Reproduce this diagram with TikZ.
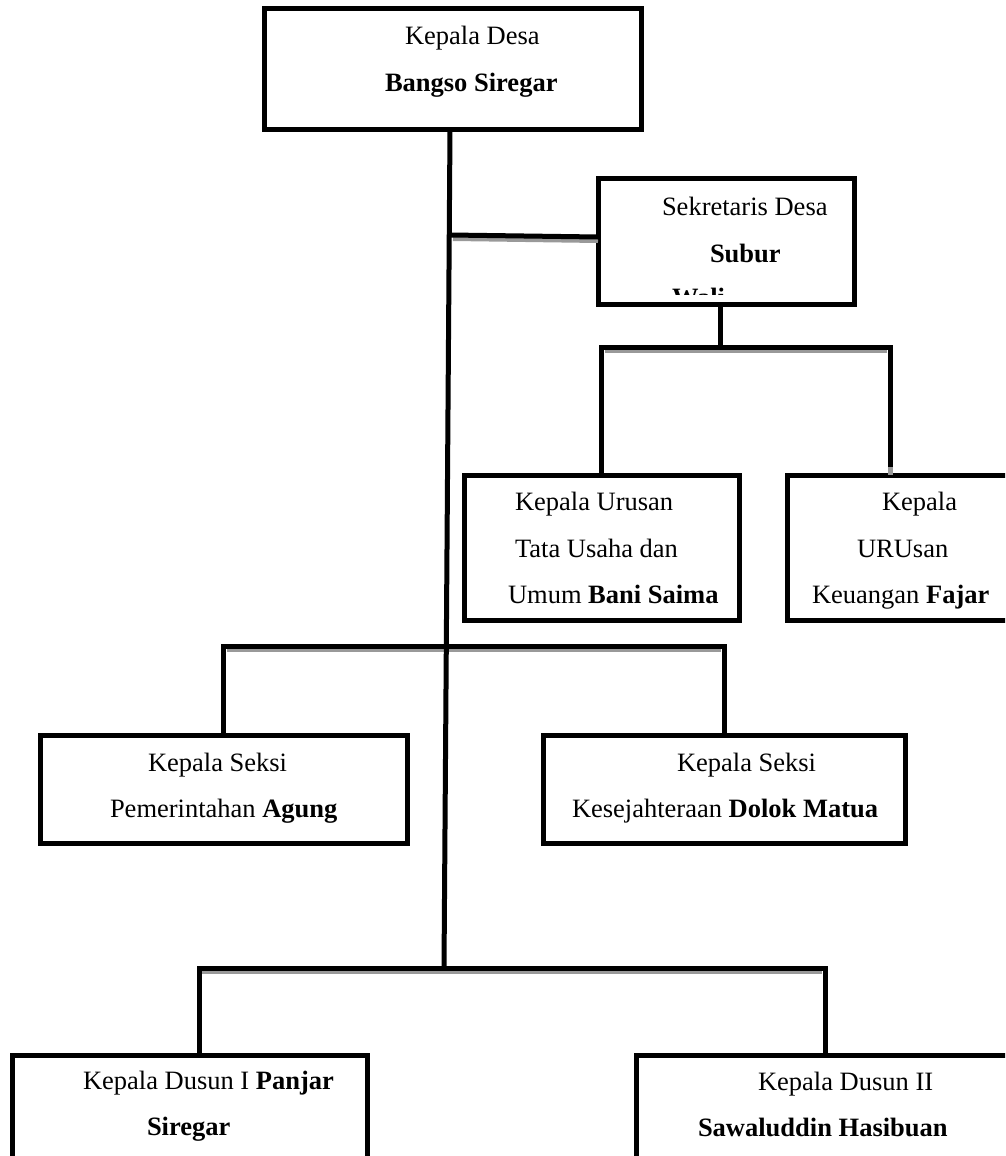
\documentclass[tikz,border=0pt]{standalone}
\usepackage{fontspec}
\setmainfont{Liberation Serif}
\begin{document}
\begin{tikzpicture}[x=1pt,y=-1pt,
  orgbox/.style 2 args={draw=black, line width=5pt, rectangle, outer sep=0pt, inner sep=0pt,
    anchor=north west, minimum width=#1, minimum height=#2},
  txt/.style={anchor=base west, inner sep=0pt, outer sep=0pt, font=\fontsize{26.5}{32}\selectfont},
  conn/.style={draw=black, line width=5pt, line cap=rect, line join=miter},
  shade/.style={draw=black!40, line width=4pt}]
\useasboundingbox (0,0) rectangle (1005,1156);
\clip (0,0) rectangle (1005,1156);

% ---- texts ----
\node[txt] (kd1) at (405,45) {Kepala Desa};
\node[txt] (kd2) at (385,91) {\textbf{Bangso Siregar}};
\node[txt] (sk1) at (662,215) {Sekretaris Desa};
\node[txt] (sk2) at (710,262) {\textbf{Subur}};
\begin{scope}
  \clip (600,180) rectangle (852,294);
  \node[txt] (sk3) at (672,306) {\textbf{Wali}};
\end{scope}
\node[txt] (tu1) at (515,510) {Kepala Urusan};
\node[txt] (tu2) at (515,557) {Tata Usaha dan};
\node[txt] (tu3) at (508,603) {Umum \textbf{Bani Saima}};
\node[txt] (ku1) at (882,510) {Kepala};
\node[txt] (ku2) at (857,557) {URUsan};
\node[txt] (ku3) at (812,603) {Keuangan \textbf{Fajar}};
\node[txt] (pe1) at (148,771) {Kepala Seksi};
\node[txt] (pe2) at (110,817) {Pemerintahan \textbf{Agung}};
\node[txt] (ke1) at (677,771) {Kepala Seksi};
\node[txt] (ke2) at (572,817) {Kesejahteraan \textbf{Dolok Matua}};
\node[txt] (d11) at (83,1089) {Kepala Dusun I \textbf{Panjar}};
\node[txt] (d12) at (147,1135) {\textbf{Siregar}};
\node[txt] (d21) at (758,1090) {Kepala Dusun II};
\node[txt] (d22) at (698,1136) {\textbf{Sawaluddin Hasibuan}};

% ---- boxes ----
\node[orgbox={377pt}{120pt}] (kades) at (264,9) {};
\node[orgbox={256pt}{126pt}] (sek) at (598,178) {};
\node[orgbox={275pt}{145pt}] (tata) at (464,475) {};
\node[orgbox={240pt}{145pt}] (keu) at (787,475) {};
\node[orgbox={367pt}{108pt}] (pem) at (40,735) {};
\node[orgbox={362pt}{108pt}] (kes) at (543,735) {};
\node[orgbox={355pt}{140pt}] (dus1) at (12,1055) {};
\node[orgbox={400pt}{140pt}] (dus2) at (636,1055) {};

% ---- junction coordinates ----
\coordinate (j1) at (450,235);
\coordinate (j3) at (444,968);
\coordinate (b1) at (720,347);
\coordinate (rb) at (890,347);
\coordinate (rbend) at (890,467);
\coordinate (ub) at (446,646);
\coordinate (l1) at (199,968);
\coordinate (l2) at (825,968);

% ---- shadows under horizontal bars ----
\draw[shade] ([xshift=3pt,yshift=-4pt]j1) -- ([yshift=0pt]sek.west);
\draw[shade] ([xshift=3pt,yshift=-4pt]tata.north |- b1) -- ([xshift=-3pt,yshift=-4pt]rb);
\draw[shade] ([xshift=3pt,yshift=-4pt]pem.north |- ub) -- ([xshift=-3pt,yshift=-4pt]kes.north |- ub);
\draw[shade] ([xshift=3pt,yshift=-4pt]l1) -- ([xshift=-3pt,yshift=-4pt]l2);

% ---- connectors ----
\draw[conn, line cap=butt] (kades.south -| j1) -- (j3);
\draw[conn] (j1) -- ([yshift=4pt]sek.west);
\draw[conn] (sek.south -| b1) -- (b1);
\draw[conn] (tata.north) -- (tata.north |- b1) -- (rb) -- (rbend);
\draw[draw=black!40, line width=5pt] (rbend) -- (keu.north -| rbend);
\draw[conn] (pem.north) -- (pem.north |- ub) -- (kes.north |- ub) -- (kes.north);
\draw[conn] (dus1.north -| l1) -- (l1) -- (l2) -- (dus2.north -| l2);
\end{tikzpicture}
\end{document}
